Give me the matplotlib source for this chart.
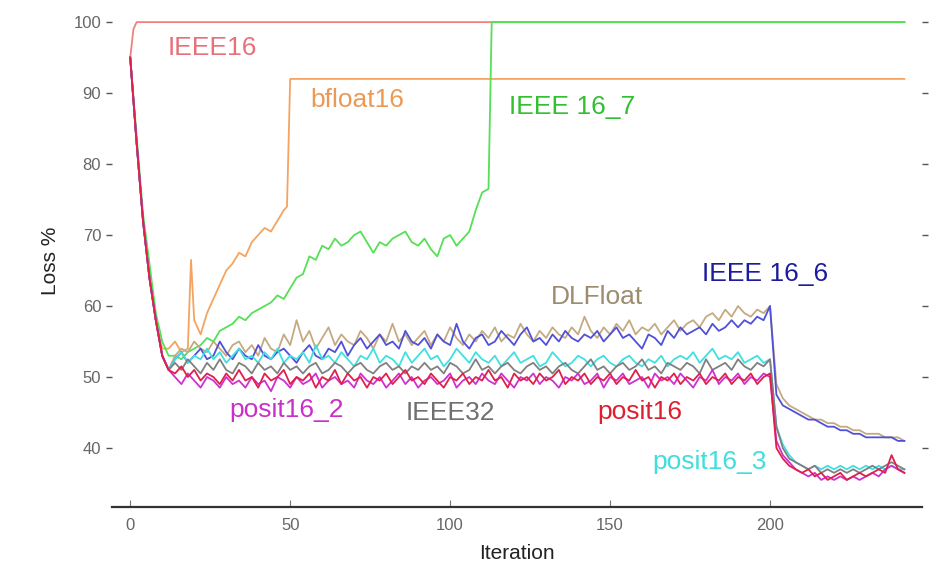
import matplotlib
matplotlib.use("Agg")
import matplotlib.pyplot as plt

plt.rcParams['font.family'] = ['Liberation Sans', 'DejaVu Sans']

# ---- data -------------------------------------------------------------
iters = list(range(0, 243, 2))          # 0, 2, ..., 242

start = [95, 83, 72, 64, 58, 53, 51]    # iterations 0..12

posit16 = start + [
    50.5, 51.5, 50.0, 51.0, 49.5, 50.5, 50.0, 49.0, 50.5, 49.5,
    51.0, 49.5, 50.0, 48.5, 50.5, 49.5, 50.0, 51.0, 49.0, 50.0,
    49.5, 50.5, 48.5, 50.0, 49.5, 51.0, 49.0, 50.5, 49.5, 50.0,
    48.5, 50.0, 49.5, 50.5, 49.0, 50.0, 51.0, 49.5, 50.0, 49.0,
    50.5, 49.5, 48.5, 50.0, 49.5, 50.5, 49.0, 50.0, 49.5, 51.0,
    49.5, 50.0, 48.5, 50.5, 49.5, 50.0, 49.0, 50.5, 49.5, 50.0,
    51.0, 49.0, 50.0, 49.5, 50.5, 49.0, 50.0, 49.5, 50.5, 49.0,
    50.0, 49.5, 51.0, 49.5, 50.0, 48.5, 50.0, 49.5, 50.5, 49.0,
    50.0, 49.5, 50.5, 49.0, 50.0, 49.5, 50.5, 49.0, 50.0, 49.5,
    50.5, 49.0, 50.0, 50.5,
    40.0, 38.5, 37.5, 37.0, 36.5, 37.0, 36.0, 36.5, 35.5, 36.0,
    36.5, 35.5, 36.0, 36.5, 36.0, 36.5, 37.0, 36.5, 39.0, 37.0, 36.5]

posit16_2 = start + [
    50.0, 49.0, 50.5, 49.5, 48.5, 50.0, 49.5, 48.5, 50.0, 49.0,
    49.5, 48.5, 50.0, 49.0, 49.5, 48.0, 50.0, 49.5, 48.5, 50.0,
    49.0, 49.5, 50.5, 48.5, 49.5, 50.0, 49.0, 49.5, 48.5, 50.5,
    49.5, 49.0, 50.0, 48.5, 49.5, 50.5, 49.0, 50.0, 48.5, 49.5,
    50.0, 49.0, 49.5, 50.5, 48.5, 49.5, 50.0, 49.0, 50.5, 49.5,
    49.0, 50.5, 49.5, 48.5, 50.0, 49.5, 50.5, 49.0, 50.0, 49.5,
    48.5, 50.0, 49.5, 50.5, 49.0, 49.5, 50.5, 48.5, 50.0, 49.5,
    50.5, 49.0, 49.5, 50.0, 48.5, 50.5, 49.5, 50.0, 49.0, 50.5,
    49.5, 48.5, 50.0, 49.5, 51.0, 49.0, 50.0, 49.5, 50.5, 49.0,
    50.0, 49.5, 50.5, 50.0,
    41.0, 39.0, 38.0, 37.0, 36.5, 36.0, 36.5, 35.5, 36.0, 35.5,
    36.0, 35.5, 36.0, 35.5, 36.0, 36.5, 36.0, 37.0, 37.5, 37.0, 36.5]

ieee32 = start + [
    52.0, 51.0, 52.5, 51.5, 50.5, 52.0, 51.0, 52.5, 51.0, 50.5,
    52.0, 51.5, 50.5, 52.0, 51.0, 51.5, 50.5, 52.0, 51.0, 51.5,
    50.5, 51.5, 52.0, 50.5, 51.0, 52.0, 51.5, 50.5, 51.5, 52.0,
    51.0, 50.5, 51.5, 52.0, 51.0, 51.5, 50.5, 51.5, 51.0, 52.0,
    51.0, 51.5, 50.5, 52.0, 51.5, 50.5, 51.0, 52.5, 51.0, 51.5,
    50.5, 51.5, 52.0, 51.0, 50.5, 51.5, 52.0, 51.0, 51.5, 50.5,
    51.5, 52.0, 51.0, 50.5, 51.5, 52.5, 51.0, 51.5, 50.5, 51.5,
    52.0, 51.0, 51.5, 52.5, 51.0, 51.5, 50.5, 52.0, 51.5, 51.0,
    52.0, 51.5, 50.5, 52.5, 51.0, 51.5, 52.0, 51.0, 52.5, 51.5,
    51.0, 52.0, 51.5, 52.5,
    43.0, 40.0, 38.5, 38.0, 37.5, 37.0, 37.5, 36.5, 37.0, 36.5,
    37.0, 36.5, 37.0, 36.5, 37.0, 37.5, 37.0, 37.5, 38.0, 37.5, 37.0]

posit16_3 = start + [
    52.5, 53.5, 52.0, 53.0, 52.5, 54.0, 52.5, 53.5, 52.0, 53.0,
    54.0, 52.5, 53.0, 52.0, 53.5, 52.5, 54.0, 52.0, 53.0, 52.5,
    53.5, 52.0, 54.5, 52.5, 53.0, 52.0, 53.5, 52.5, 51.5, 53.0,
    52.5, 54.0, 52.0, 53.0, 52.5, 51.5, 53.5, 52.0, 53.0, 54.0,
    52.5, 53.0, 51.5, 52.5, 54.0, 53.0, 52.0, 53.5, 52.5, 52.0,
    53.0, 51.5, 52.5, 53.5, 52.0, 52.5, 53.0, 51.5, 52.0, 53.5,
    52.5, 51.5, 52.0, 53.0, 52.5, 51.5, 52.5, 53.0, 52.0, 51.5,
    52.5, 53.0, 52.0, 51.5, 52.5, 52.0, 53.0, 51.5, 52.5, 53.0,
    52.5, 53.5, 52.0, 53.0, 54.0, 52.5, 53.0, 52.5, 53.5, 52.0,
    52.5, 53.0, 52.0, 52.5,
    43.0, 40.5, 39.0, 38.0, 37.5, 37.0, 37.5, 37.0, 37.5, 37.0,
    37.5, 37.0, 37.5, 37.0, 37.5, 37.0, 37.5, 37.0, 37.5, 37.0, 37.0]

dlfloat = start + [
    53.0, 54.0, 53.5, 55.0, 54.0, 53.5, 55.0, 54.0, 53.0, 54.5,
    55.0, 53.5, 54.5, 53.0, 55.5, 54.0, 53.5, 56.0, 54.5, 58.0,
    55.0, 56.5, 54.0, 55.5, 57.0, 54.5, 56.0, 55.0, 54.5, 56.5,
    55.5, 54.0, 56.0, 55.0, 57.5, 55.0, 56.0, 54.5, 55.5, 56.5,
    54.5, 56.0, 55.0, 57.0, 55.5, 54.5, 56.0, 55.0, 56.5, 55.5,
    57.0, 55.0, 56.0, 55.5, 57.5, 56.0, 55.0, 56.5, 55.5, 57.0,
    56.0, 55.5, 57.0, 56.0, 58.5, 56.5, 55.5, 57.0, 56.0, 57.5,
    56.5, 58.0, 56.0, 57.0, 56.5, 57.5, 56.0, 57.0, 58.0, 56.5,
    57.5, 58.0, 57.0, 58.5, 59.0, 58.0, 59.5, 58.5, 60.0, 59.0,
    58.5, 59.5, 59.0, 60.0,
    49.0, 47.0, 46.0, 45.5, 45.0, 44.5, 44.0, 44.0, 43.5, 43.5,
    43.0, 43.0, 42.5, 42.5, 42.0, 42.0, 42.0, 41.5, 41.5, 41.5, 41.0]

ieee16_6 = start + [
    52.5, 53.5, 52.0, 53.0, 54.0, 52.5, 53.0, 55.0, 53.5, 52.5,
    54.0, 53.0, 52.5, 54.5, 53.0, 52.5, 53.5, 54.0, 53.0, 52.0,
    53.5, 54.5, 53.0, 52.5, 54.0, 53.5, 55.0, 53.0, 54.5, 55.5,
    54.0, 55.0, 56.0, 54.5, 55.0, 54.0, 56.5, 55.0, 54.5, 55.5,
    54.0, 56.0, 55.0, 54.5, 57.5, 55.0, 54.0, 55.5, 56.0, 54.5,
    55.0, 56.5, 55.5, 54.5, 56.0, 57.0, 55.0, 55.5, 54.5, 56.0,
    55.0, 56.5, 55.5, 55.0, 56.0, 55.5, 56.5, 55.0, 56.0, 57.0,
    55.5, 56.0, 55.0, 54.0, 56.0, 55.5, 54.5, 56.5, 55.5, 57.0,
    56.0, 56.5, 57.0, 56.0, 57.5, 56.5, 57.0, 58.0, 57.0, 58.0,
    57.5, 58.5, 58.0, 60.0,
    47.5, 46.0, 45.5, 45.0, 44.5, 44.0, 44.0, 43.5, 43.0, 43.0,
    42.5, 42.5, 42.0, 42.0, 41.5, 41.5, 41.5, 41.5, 41.5, 41.0, 41.0]

ieee16_7_iters = list(range(0, 113, 2)) + [113, 242]
ieee16_7 = [95, 84, 73, 66, 59, 55, 53,
            53.0, 52.5, 53.5, 54.0, 54.5, 55.5, 55.0, 56.5, 57.0, 57.5,
            58.5, 58.0, 59.0, 59.5, 60.0, 60.5, 61.5, 61.0, 62.5, 64.0,
            64.5, 67.0, 66.5, 68.5, 68.0, 69.5, 68.5, 69.0, 70.0, 70.5,
            69.0, 67.5, 69.0, 68.5, 69.5, 70.0, 70.5, 69.0, 68.5, 69.5,
            68.0, 67.0, 69.5, 70.0, 68.5, 69.5, 70.5, 73.5, 76.0, 76.5,
            100, 100]

bfloat16_iters = [0, 2, 4, 6, 8, 10, 12, 14, 16, 18, 19, 20, 22, 24, 26, 28,
                  30, 32, 34, 36, 38, 40, 42, 44, 46, 48, 49, 50, 242]
bfloat16 = [95, 83, 72, 64, 58, 54, 54, 55, 53.5, 54, 66.5, 58, 56, 59, 61, 63,
            65, 66, 67.5, 67, 69, 70, 71, 70.5, 72, 73.5, 74, 92, 92]

ieee16_iters = [0, 1, 2, 242]
ieee16 = [95, 99, 100, 100]

# ---- figure -----------------------------------------------------------
fig = plt.figure(figsize=(9.36, 5.78), dpi=100)
ax = fig.add_axes([0.12, 0.123, 0.865, 0.851])

lw = 1.3
ax.plot(ieee16_iters, ieee16, color='#f08080', lw=lw)
ax.plot(bfloat16_iters, bfloat16, color='#f4a460', lw=lw)
ax.plot(ieee16_7_iters, ieee16_7, color='#55e055', lw=lw)
ax.plot(iters, dlfloat, color='#c4aa80', lw=lw)
ax.plot(iters, ieee16_6, color='#5050d8', lw=lw)
ax.plot(iters, posit16_3, color='#40e0e0', lw=lw)
ax.plot(iters, ieee32, color='#808080', lw=lw)
ax.plot(iters, posit16_2, color='#d030d0', lw=lw)
ax.plot(iters, posit16, color='#e0204a', lw=lw)

# series names placed beside their curves
fs = 19
ax.text(25.6, 96.3, 'IEEE16', color='#e8707a', fontsize=fs, ha='center', va='center')
ax.text(71, 89.0, 'bfloat16', color='#eb9a55', fontsize=fs, ha='center', va='center')
ax.text(138, 88.0, 'IEEE 16_7', color='#30c030', fontsize=fs, ha='center', va='center')
ax.text(146, 61.3, 'DLFloat', color='#9c8c70', fontsize=fs, ha='center', va='center')
ax.text(198.4, 64.5, 'IEEE 16_6', color='#1c1c9c', fontsize=fs, ha='center', va='center')
ax.text(49, 45.4, 'posit16_2', color='#c830c8', fontsize=fs, ha='center', va='center')
ax.text(100, 44.9, 'IEEE32', color='#707070', fontsize=fs, ha='center', va='center')
ax.text(159.4, 45.1, 'posit16', color='#dd2030', fontsize=fs, ha='center', va='center')
ax.text(181, 38.0, 'posit16_3', color='#40dede', fontsize=fs, ha='center', va='center')

ax.set_xlim(-5.6, 247.5)
ax.set_ylim(31.7, 101)
ax.set_xticks([0, 50, 100, 150, 200])
ax.set_yticks([40, 50, 60, 70, 80, 90, 100])

for side in ('left', 'right', 'top'):
    ax.spines[side].set_visible(False)
ax.spines['bottom'].set_color('#333333')
ax.spines['bottom'].set_linewidth(1.6)

ax.tick_params(axis='y', left=True, right=True, direction='out', length=4,
               width=1.0, color='#555555', labelsize=12, labelcolor='#666666', pad=4)
ax.tick_params(axis='x', bottom=True, direction='in', length=5, width=0.8,
               color='#777777', labelsize=12, labelcolor='#666666', pad=8)

ax.set_xlabel('Iteration', fontsize=15, color='#222222', labelpad=8)
ax.set_ylabel('Loss %', fontsize=15, color='#222222', labelpad=10)

fig.savefig('out.png', dpi=100, facecolor='white')
